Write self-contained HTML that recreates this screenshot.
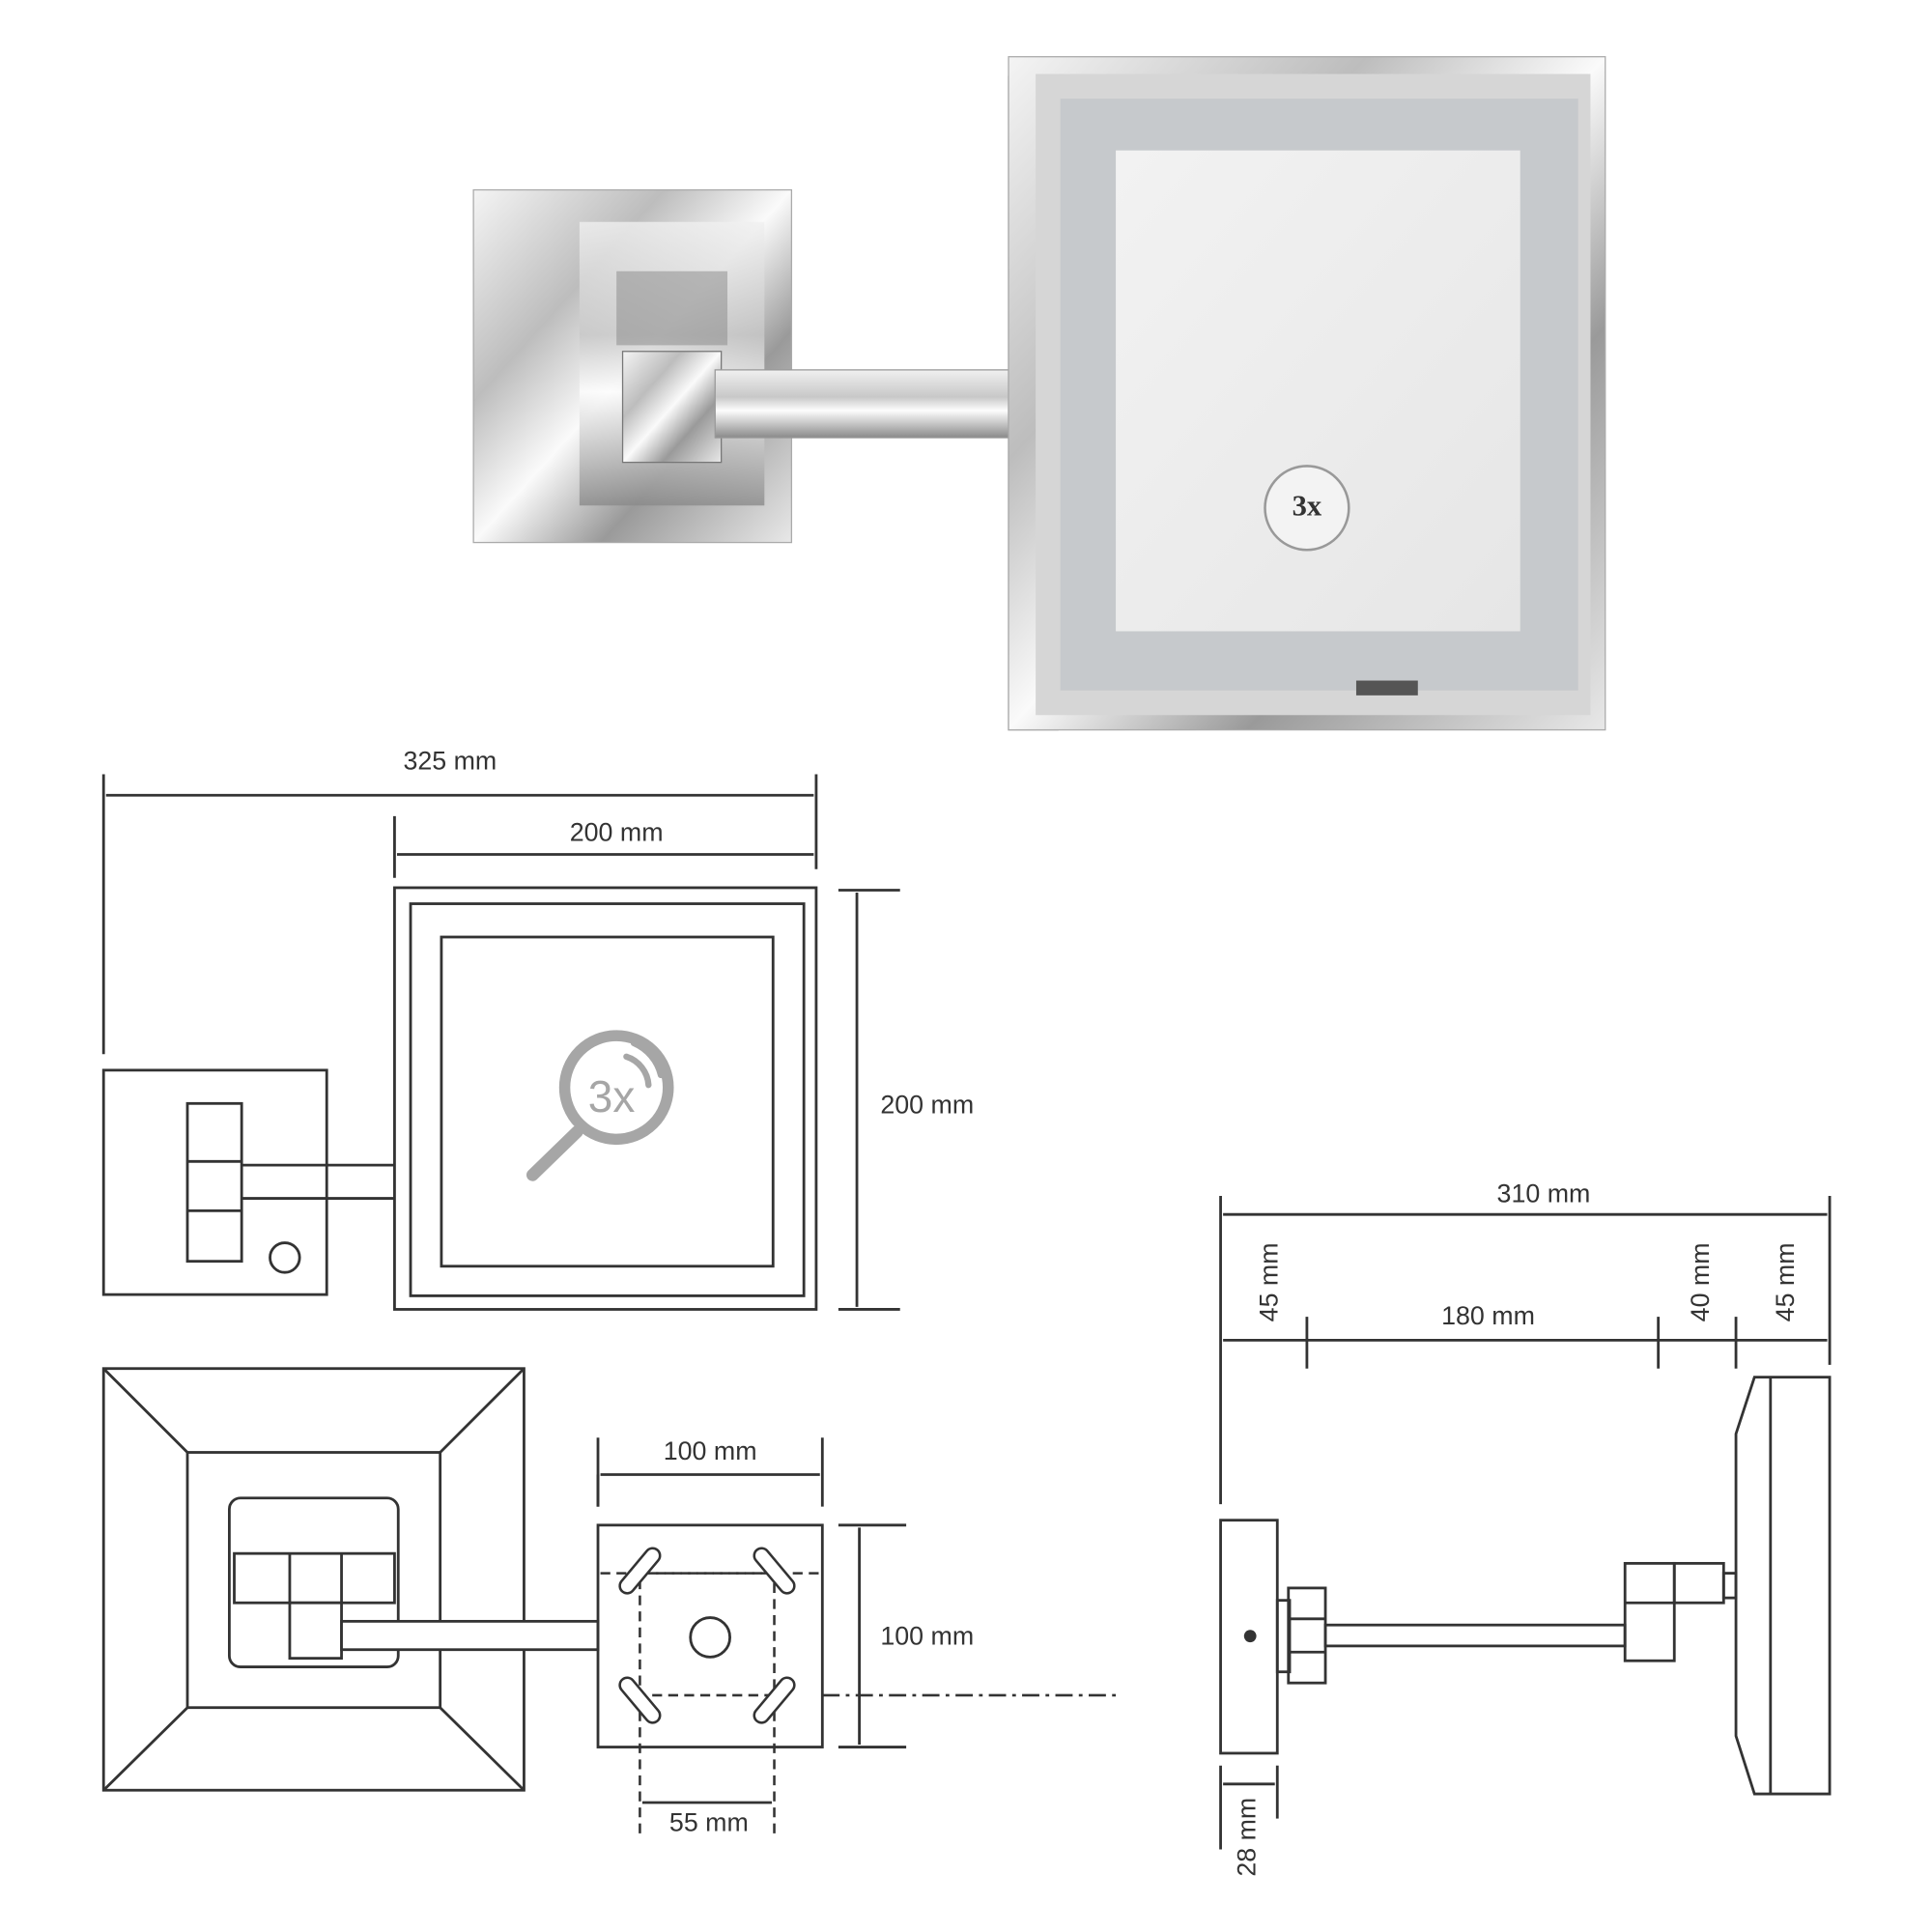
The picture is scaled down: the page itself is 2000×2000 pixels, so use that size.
<!DOCTYPE html>
<html><head><meta charset="utf-8"><style>
html,body{margin:0;padding:0;background:#fff;}
svg{display:block;}
text{font-family:"Liberation Sans",sans-serif;fill:#333;}
</style></head><body>
<svg width="2000" height="2000" viewBox="0 0 1567 1567" xmlns="http://www.w3.org/2000/svg">
<defs>
<linearGradient id="chrome" x1="0" y1="0" x2="1" y2="1">
<stop offset="0" stop-color="#f4f4f4"/><stop offset="0.3" stop-color="#bdbdbd"/><stop offset="0.5" stop-color="#fafafa"/><stop offset="0.7" stop-color="#9a9a9a"/><stop offset="1" stop-color="#e8e8e8"/></linearGradient>
<linearGradient id="chromeV" x1="0" y1="0" x2="0" y2="1">
<stop offset="0" stop-color="#f0f0f0"/><stop offset="0.4" stop-color="#c8c8c8"/><stop offset="0.6" stop-color="#fdfdfd"/><stop offset="1" stop-color="#8a8a8a"/></linearGradient>
<linearGradient id="glass" x1="0" y1="0" x2="1" y2="1">
<stop offset="0" stop-color="#f2f2f2"/><stop offset="1" stop-color="#e6e6e6"/></linearGradient>
</defs>

<!-- PHOTO -->
<rect x="384" y="154" width="258" height="286" fill="url(#chrome)" stroke="#aaa"/>
<rect x="470" y="180" width="150" height="230" fill="url(#chromeV)" opacity="0.8"/>
<rect x="500" y="220" width="90" height="60" fill="#888" opacity="0.5"/>
<rect x="505" y="285" width="80" height="90" fill="url(#chrome)" stroke="#777"/>
<rect x="580" y="300" width="240" height="55" fill="url(#chromeV)" stroke="#999"/>
<rect x="818" y="62" width="40" height="530" fill="url(#chromeV)" stroke="#999"/>
<rect x="818" y="46" width="484" height="546" fill="url(#chrome)" stroke="#aaa"/>
<rect x="840" y="60" width="450" height="520" fill="#d6d6d6"/>
<rect x="860" y="80" width="420" height="480" fill="#c6c9cc"/>
<rect x="905" y="122" width="328" height="390" fill="url(#glass)"/>
<circle cx="1060" cy="412" r="34" fill="#f3f3f3" stroke="#999" stroke-width="2"/>
<text x="1060" y="418" text-anchor="middle" font-size="24" font-weight="bold" style="font-family:'Liberation Serif',serif" fill="#444">3x</text>
<rect x="1100" y="552" width="50" height="12" fill="#555"/>

<g fill="none" stroke="#333" stroke-width="2.2">
<!-- FRONT VIEW dims -->
<line x1="84" y1="628" x2="84" y2="855"/><line x1="662" y1="628" x2="662" y2="705"/>
<line x1="86" y1="645" x2="660" y2="645"/>
<line x1="320" y1="662" x2="320" y2="712"/>
<line x1="322" y1="693" x2="660" y2="693"/>
<line x1="680" y1="722" x2="730" y2="722"/><line x1="680" y1="1062" x2="730" y2="1062"/>
<line x1="695" y1="724" x2="695" y2="1060"/>
<!-- mirror -->
<rect x="320" y="720" width="342" height="342"/>
<rect x="333" y="733" width="319" height="318"/>
<rect x="358" y="760" width="269" height="267"/>
<!-- plate -->
<rect x="84" y="868" width="181" height="182"/>
<rect x="152" y="895" width="44" height="128"/>
<line x1="152" y1="942" x2="196" y2="942"/><line x1="152" y1="982" x2="196" y2="982"/>
<line x1="196" y1="945" x2="320" y2="945"/><line x1="196" y1="972" x2="320" y2="972"/>
<circle cx="231" cy="1020" r="12"/>

<!-- TOP VIEW -->
<rect x="84" y="1110" width="341" height="342"/>
<rect x="152" y="1178" width="205" height="207"/>
<line x1="84" y1="1110" x2="152" y2="1178"/><line x1="425" y1="1110" x2="357" y2="1178"/>
<line x1="84" y1="1452" x2="152" y2="1385"/><line x1="425" y1="1452" x2="357" y2="1385"/>
<rect x="186" y="1215" width="137" height="137" rx="9"/>
<rect x="190" y="1260" width="130" height="40" fill="#fff"/>
<line x1="235" y1="1260" x2="235" y2="1300"/><line x1="277" y1="1260" x2="277" y2="1300"/>
<rect x="235" y="1300" width="42" height="45" fill="#fff"/>
<rect x="277" y="1315" width="208" height="23" fill="#fff"/>
<rect x="485" y="1237" width="182" height="180"/>
<circle cx="576" cy="1328" r="16"/>
<line x1="485" y1="1196" x2="485" y2="1222"/><line x1="667" y1="1166" x2="667" y2="1222"/><line x1="485" y1="1166" x2="485" y2="1222"/>
<line x1="487" y1="1196" x2="665" y2="1196"/>
<line x1="680" y1="1237" x2="735" y2="1237"/><line x1="680" y1="1417" x2="735" y2="1417"/>
<line x1="697" y1="1239" x2="697" y2="1415"/>
<line x1="521" y1="1462" x2="626" y2="1462"/>
</g>
<g fill="none" stroke="#333" stroke-width="2" stroke-dasharray="8,5">
<rect x="519" y="1276" width="109" height="99"/>
<line x1="519" y1="1375" x2="519" y2="1490"/><line x1="628" y1="1375" x2="628" y2="1490"/>
<line x1="487" y1="1276" x2="665" y2="1276"/>
</g>
<line x1="667" y1="1375" x2="905" y2="1375" stroke="#333" stroke-width="2" stroke-dasharray="14,5,3,5"/>
<g fill="#fff" stroke="#333" stroke-width="2">
<rect x="497" y="1268" width="44" height="12" rx="6" transform="rotate(-50 519 1274)"/>
<rect x="606" y="1268" width="44" height="12" rx="6" transform="rotate(50 628 1274)"/>
<rect x="497" y="1373" width="44" height="12" rx="6" transform="rotate(50 519 1379)"/>
<rect x="606" y="1373" width="44" height="12" rx="6" transform="rotate(-50 628 1379)"/>
</g>

<!-- SIDE VIEW -->
<g fill="none" stroke="#333" stroke-width="2.2">
<line x1="990" y1="970" x2="990" y2="1220"/><line x1="1484" y1="970" x2="1484" y2="1107"/>
<line x1="992" y1="985" x2="1482" y2="985"/>
<line x1="992" y1="1087" x2="1482" y2="1087"/>
<line x1="1060" y1="1068" x2="1060" y2="1110"/><line x1="1345" y1="1068" x2="1345" y2="1110"/><line x1="1408" y1="1068" x2="1408" y2="1110"/>
<rect x="990" y="1233" width="46" height="189"/>
<rect x="1036" y="1298" width="10" height="58"/>
<rect x="1045" y="1288" width="30" height="77"/>
<line x1="1045" y1="1313" x2="1075" y2="1313"/><line x1="1045" y1="1340" x2="1075" y2="1340"/>
<rect x="1075" y="1318" width="243" height="17"/>
<rect x="1358" y="1268" width="40" height="32"/>
<rect x="1318" y="1268" width="40" height="79"/>
<line x1="1318" y1="1300" x2="1358" y2="1300"/>
<rect x="1398" y="1276" width="10" height="20"/>
<polygon points="1423,1117 1484,1117 1484,1455 1423,1455 1408,1408 1408,1163"/>
<line x1="1436" y1="1117" x2="1436" y2="1455"/>
<line x1="990" y1="1432" x2="990" y2="1500"/><line x1="1036" y1="1432" x2="1036" y2="1475"/>
<line x1="992" y1="1447" x2="1034" y2="1447"/>
</g>
<circle cx="1014" cy="1327" r="5" fill="#333"/>

<!-- magnifier -->
<g fill="none" stroke="#a6a6a6" stroke-linecap="round">
<circle cx="500" cy="882" r="42" stroke-width="9"/>
<line x1="468" y1="918" x2="432" y2="953" stroke-width="10"/>
<path d="M508 857 A26 26 0 0 1 526 880" stroke-width="5"/>
<path d="M514 846 A38 38 0 0 1 536 872" stroke-width="5"/>
</g>
<text x="496" y="902" text-anchor="middle" font-size="36" style="fill:#a6a6a6">3x</text>

<!-- labels -->
<g font-size="21">
<text x="365" y="624" text-anchor="middle">325 mm</text>
<text x="500" y="682" text-anchor="middle">200 mm</text>
<text x="752" y="903" text-anchor="middle">200 mm</text>
<text x="576" y="1184" text-anchor="middle">100 mm</text>
<text x="752" y="1334" text-anchor="middle">100 mm</text>
<text x="575" y="1485" text-anchor="middle">55 mm</text>
<text x="1252" y="975" text-anchor="middle">310 mm</text>
<text x="1207" y="1074" text-anchor="middle">180 mm</text>
<text transform="translate(1036 1040) rotate(-90)" text-anchor="middle">45 mm</text>
<text transform="translate(1386 1040) rotate(-90)" text-anchor="middle">40 mm</text>
<text transform="translate(1455 1040) rotate(-90)" text-anchor="middle">45 mm</text>
<text transform="translate(1018 1490) rotate(-90)" text-anchor="middle">28 mm</text>
</g>
</svg>
</body></html>
